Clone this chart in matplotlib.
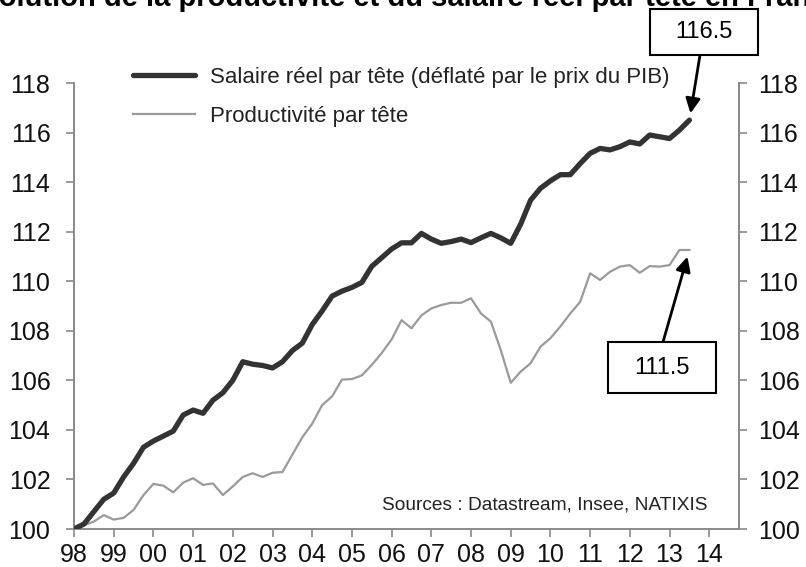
import numpy as np
import matplotlib
matplotlib.use("Agg")
import matplotlib.pyplot as plt
from matplotlib.patches import Rectangle

# Quarterly series, 1998Q1 -> 2013Q3 (index 1998Q1 = 100)
salaire = [100.0, 100.2, 100.7, 101.2, 101.45, 102.1, 102.65, 103.3,
           103.55, 103.75, 103.95, 104.6, 104.8, 104.67, 105.2, 105.5,
           106.0, 106.75, 106.65, 106.6, 106.5, 106.75, 107.2, 107.5,
           108.25, 108.8, 109.4, 109.6, 109.75, 109.95, 110.6, 110.95,
           111.3, 111.55, 111.55, 111.93, 111.7, 111.53, 111.6, 111.7,
           111.56, 111.75, 111.93, 111.75, 111.53, 112.3, 113.27, 113.75,
           114.05, 114.3, 114.3, 114.75, 115.16, 115.36, 115.3, 115.43,
           115.62, 115.54, 115.9, 115.83, 115.76, 116.1, 116.5]

productivite = [100.0, 100.15, 100.3, 100.56, 100.38, 100.45, 100.77, 101.37,
                101.82, 101.75, 101.48, 101.87, 102.05, 101.78, 101.84, 101.37,
                101.72, 102.1, 102.25, 102.1, 102.27, 102.3, 103.0, 103.7,
                104.25, 105.0, 105.35, 106.03, 106.05, 106.2, 106.62, 107.1,
                107.65, 108.43, 108.1, 108.62, 108.9, 109.04, 109.13, 109.13,
                109.31, 108.7, 108.37, 107.22, 105.9, 106.35, 106.69, 107.36,
                107.7, 108.17, 108.7, 109.17, 110.32, 110.05, 110.38, 110.59,
                110.65, 110.34, 110.61, 110.59, 110.65, 111.26, 111.26]

start_year = 1998
year_ticks = list(range(1998, 2015))
year_labels = ["98", "99", "00", "01", "02", "03", "04", "05", "06",
               "07", "08", "09", "10", "11", "12", "13", "14"]
y_ticks = [100, 102, 104, 106, 108, 110, 112, 114, 116, 118]

label_salaire = "Salaire réel par tête (déflaté par le prix du PIB)"
label_prod = "Productivité par tête"
title = "Évolution de la productivité et du salaire réel par tête en France"
source = "Sources : Datastream, Insee, NATIXIS"
note_salaire = "116.5"
note_prod = "111.5"

plt.rcParams["font.family"] = ["Liberation Sans", "DejaVu Sans"]

W, H = 806, 567
fig = plt.figure(figsize=(W / 100, H / 100), dpi=100)
ax = fig.add_axes([74 / W, 1 - 529 / H, (739 - 74) / W, (529 - 83) / H])

t = start_year + np.arange(len(salaire)) / 4

ax.plot(t, salaire, color="#333333", lw=3.8, solid_capstyle="round",
        label=label_salaire, zorder=3)
ax.plot(t, productivite, color="#9a9a9a", lw=1.6, label=label_prod, zorder=2)

ax.set_xlim(1998, 2014.75)
ax.set_ylim(100, 118)
ax.set_xticks(year_ticks)
ax.set_xticklabels(year_labels)
ax.set_yticks(y_ticks)

spine_c = "#8a8a8a"
for s in ["left", "bottom", "right"]:
    ax.spines[s].set_color(spine_c)
    ax.spines[s].set_linewidth(1.4)
ax.spines["top"].set_visible(False)

ax.tick_params(axis="y", direction="out", length=6, width=1.2, color=spine_c,
               labelsize=18, pad=11, labelcolor="#111111")
ax.tick_params(axis="x", direction="out", length=6, width=1.2, color=spine_c,
               labelsize=18, pad=4, labelcolor="#111111")

ax2 = ax.twinx()
ax2.set_ylim(100, 118)
ax2.set_yticks(y_ticks)
for s in ["left", "bottom", "top"]:
    ax2.spines[s].set_visible(False)
ax2.spines["right"].set_color(spine_c)
ax2.spines["right"].set_linewidth(1.4)
ax2.tick_params(axis="y", direction="out", length=6, width=1.2, color=spine_c,
                labelsize=18, pad=8, labelcolor="#111111")

leg = ax.legend(loc="upper left", bbox_to_anchor=(133 / W, 1 - 67 / H),
                bbox_transform=fig.transFigure, frameon=False, fontsize=16,
                handlelength=2.8, handletextpad=0.65, labelspacing=0.8,
                borderpad=0, borderaxespad=0)
for txt in leg.get_texts():
    txt.set_color("#222222")

ax.text((708 - 74) / 665, (529 - 505) / 446, source, transform=ax.transAxes,
        ha="right", va="center", fontsize=13.8, color="#222222")

fig.text(0.5, 1 - 6.5 / H, title, ha="center", va="baseline",
         fontsize=21, fontweight="bold")

# annotation boxes (figure pixel coordinates)
def note(x0, y0, x1, y1, text):
    fig.patches.append(Rectangle((x0 / W, 1 - y1 / H), (x1 - x0) / W,
                                 (y1 - y0) / H, transform=fig.transFigure,
                                 fill=True, facecolor="white",
                                 edgecolor="black", lw=1.5, zorder=5))
    fig.text((x0 + x1) / 2 / W, 1 - (y0 + y1) / 2 / H, text, ha="center",
             va="center", fontsize=17, zorder=6)

note(650, 9, 758, 55, note_salaire)
note(608, 342, 716, 393, note_prod)

arrow = dict(arrowstyle="-|>", color="black", lw=2, mutation_scale=22,
             shrinkA=0, shrinkB=5)
ax.annotate("", xy=(t[-1], salaire[-1]), xycoords="data",
            xytext=(700 / W, 1 - 55 / H), textcoords="figure fraction",
            arrowprops=arrow)
ax.annotate("", xy=(t[-1], productivite[-1]), xycoords="data",
            xytext=(663 / W, 1 - 342 / H), textcoords="figure fraction",
            arrowprops=arrow)

fig.savefig("out.png", dpi=100)
